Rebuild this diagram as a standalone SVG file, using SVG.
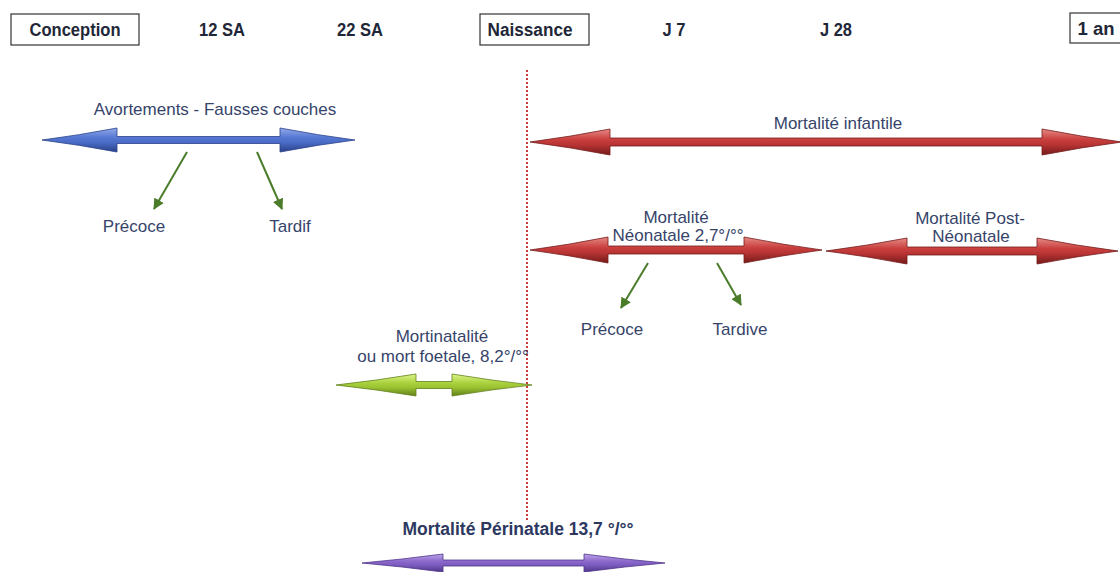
<svg xmlns="http://www.w3.org/2000/svg" width="1120" height="572" viewBox="0 0 1120 572">
<style>
.hdr{font-family:"Liberation Sans",Arial,sans-serif;font-weight:bold;font-size:18px;fill:#1f2738;text-anchor:middle}
.box{fill:#ffffff;stroke:#333333;stroke-width:1.2}
.lbl{font-family:"Liberation Sans",Arial,sans-serif;font-size:17px;fill:#36446a;text-anchor:middle}
.lblb{font-family:"Liberation Sans",Arial,sans-serif;font-size:17.5px;font-weight:bold;fill:#2c3860;text-anchor:middle}
.gl{stroke:#4a7c2a;stroke-width:2;fill:none;marker-end:url(#gh)}
</style>
<defs>
<linearGradient id="gBlue" x1="0" y1="0" x2="0" y2="1"><stop offset="0" stop-color="#93aaeb"/><stop offset="0.4" stop-color="#5577d2"/><stop offset="0.6" stop-color="#4a6cc6"/><stop offset="1" stop-color="#2a418a"/></linearGradient>
<linearGradient id="gRed" x1="0" y1="0" x2="0" y2="1"><stop offset="0" stop-color="#e68a86"/><stop offset="0.4" stop-color="#c9403e"/><stop offset="0.6" stop-color="#b93434"/><stop offset="1" stop-color="#741a1a"/></linearGradient>
<linearGradient id="gGreen" x1="0" y1="0" x2="0" y2="1"><stop offset="0" stop-color="#def58a"/><stop offset="0.4" stop-color="#aad23e"/><stop offset="0.6" stop-color="#9cc432"/><stop offset="1" stop-color="#62801a"/></linearGradient>
<linearGradient id="gPurple" x1="0" y1="0" x2="0" y2="1"><stop offset="0" stop-color="#bda6ea"/><stop offset="0.4" stop-color="#8c69cc"/><stop offset="0.6" stop-color="#7e5dc0"/><stop offset="1" stop-color="#4f358a"/></linearGradient>
<marker id="gh" markerUnits="userSpaceOnUse" markerWidth="12" markerHeight="11" refX="10" refY="5.5" orient="auto"><path d="M0,0 L11,5.5 L0,11 Z" fill="#4a7c2a"/></marker>
</defs>

<g id="conception"><rect class="box" x="11" y="14" width="128" height="31"/><text class="hdr" x="75" y="36" textLength="91" lengthAdjust="spacingAndGlyphs">Conception</text></g>
<g id="sa12"><text class="hdr" x="222" y="36" textLength="46" lengthAdjust="spacingAndGlyphs">12 SA</text></g>
<g id="sa22"><text class="hdr" x="360" y="36" textLength="46" lengthAdjust="spacingAndGlyphs">22 SA</text></g>
<g id="naissance"><rect class="box" x="480" y="14" width="109" height="31"/><text class="hdr" x="530" y="36" textLength="85" lengthAdjust="spacingAndGlyphs">Naissance</text></g>
<g id="j7"><text class="hdr" x="674" y="36" textLength="23" lengthAdjust="spacingAndGlyphs">J 7</text></g>
<g id="j28"><text class="hdr" x="836" y="36" textLength="32" lengthAdjust="spacingAndGlyphs">J 28</text></g>
<g id="an1"><rect class="box" x="1070" y="13" width="60" height="30"/><text class="hdr" x="1096" y="35" textLength="37" lengthAdjust="spacingAndGlyphs">1 an</text></g>

<g id="birthline"><line x1="527" y1="70" x2="527" y2="520" stroke="#cc3b3b" stroke-width="2" stroke-dasharray="2 2"/></g>

<g id="avortements">
<text class="lbl" x="215" y="115">Avortements - Fausses couches</text>
<path d="M42,140 Q79.5,135.2 117,128 L117,136.5 L280,136.5 L280,128 Q317.5,135.2 355,140 Q317.5,144.8 280,152 L280,143.5 L117,143.5 L117,152 Q79.5,144.8 42,140Z" fill="url(#gBlue)" stroke="#2a418a" stroke-width="0.8"/>
</g>
<g id="precoce1"><text class="lbl" x="134" y="232">Précoce</text></g>
<g id="tardif"><text class="lbl" x="290" y="232">Tardif</text></g>

<g id="infantile">
<text class="lbl" x="838" y="129">Mortalité infantile</text>
<path d="M530,142 Q570,136.8 610,129 L610,138 L1042,138 L1042,129 Q1082,136.8 1122,142 Q1082,147.2 1042,155 L1042,146 L610,146 L610,155 Q570,147.2 530,142Z" fill="url(#gRed)" stroke="#741a1a" stroke-width="0.8"/>
</g>

<g id="neonatale">
<path d="M530,250 Q569,244.8 608,237 L608,246 L744,246 L744,237 Q783,244.8 822,250 Q783,255.2 744,263 L744,254 L608,254 L608,263 Q569,255.2 530,250Z" fill="url(#gRed)" stroke="#741a1a" stroke-width="0.8"/>
<text class="lbl" x="676" y="223">Mortalité</text>
<text class="lbl" x="678" y="241">Néonatale 2,7°/°°</text>
</g>
<g id="precoce2"><text class="lbl" x="612" y="335">Précoce</text></g>
<g id="tardive"><text class="lbl" x="740" y="335">Tardive</text></g>

<g id="postneonatale">
<path d="M826,251 Q866.5,245.8 907,238 L907,247 L1037,247 L1037,238 Q1077.5,245.8 1118,251 Q1077.5,256.2 1037,264 L1037,255 L907,255 L907,264 Q866.5,256.2 826,251Z" fill="url(#gRed)" stroke="#741a1a" stroke-width="0.8"/>
<text class="lbl" x="970" y="224">Mortalité Post-</text>
<text class="lbl" x="971" y="242">Néonatale</text>
</g>

<g id="mortinatalite">
<text class="lbl" x="442" y="342">Mortinatalité</text>
<text class="lbl" x="443" y="362">ou mort foetale, 8,2°/°°</text>
<path d="M336,385 Q376,380.6 416,374 L416,381.5 L452,381.5 L452,374 Q492,380.6 532,385 Q492,389.4 452,396 L452,388.5 L416,388.5 L416,396 Q376,389.4 336,385Z" fill="url(#gGreen)" stroke="#62801a" stroke-width="0.8"/>
</g>

<g id="perinatale">
<text class="lblb" x="518" y="535">Mortalité Périnatale 13,7 °/°°</text>
<path d="M362,563 Q402.5,559.4 443,554 L443,560 L584,560 L584,554 Q624.5,559.4 665,563 Q624.5,566.6 584,572 L584,566 L443,566 L443,572 Q402.5,566.6 362,563Z" fill="url(#gPurple)" stroke="#4f358a" stroke-width="0.8"/>
</g>

<g id="connectors">
<line class="gl" x1="187" y1="152" x2="154" y2="209"/>
<line class="gl" x1="257" y1="152" x2="282" y2="209"/>
<line class="gl" x1="648" y1="263" x2="621" y2="308"/>
<line class="gl" x1="717" y1="263" x2="741" y2="305"/>
</g>
</svg>
